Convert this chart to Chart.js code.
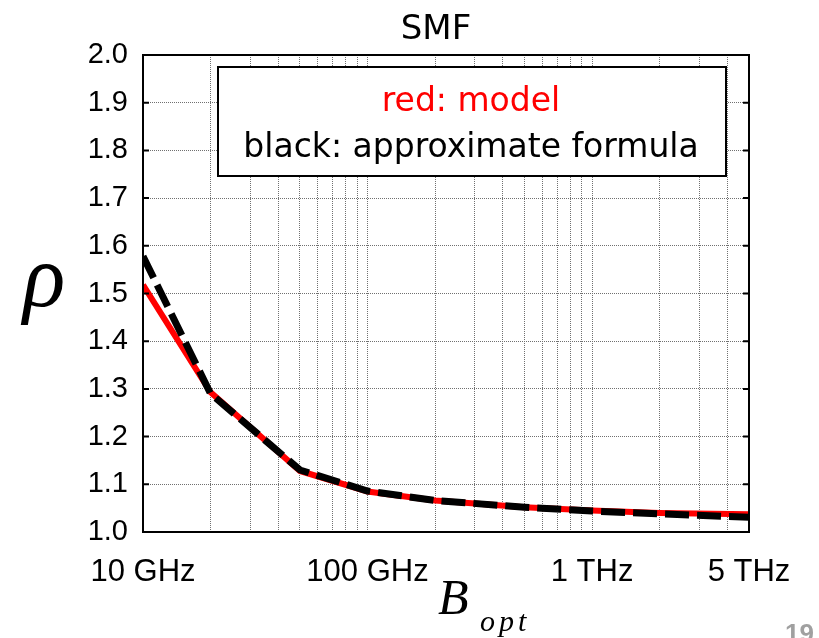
<!DOCTYPE html>
<html>
<head>
<meta charset="utf-8">
<script src="https://cdn.jsdelivr.net/npm/chart.js@4"></script>
<style>
  html, body { margin: 0; padding: 0; background: #fff; }
  #wrap { width: 819px; height: 638px; }
</style>
</head>
<body>
<div id="wrap"><canvas id="myChart" width="819" height="638"></canvas></div>
<script>
// values
const freqGHz = [10, 20, 50, 100, 200, 500, 1000, 2000, 5000];
const modelRho = [1.518, 1.293, 1.128, 1.085, 1.066, 1.052, 1.045, 1.040, 1.037];
const approxRho = [1.578, 1.290, 1.130, 1.086, 1.066, 1.052, 1.044, 1.038, 1.031];

// grid positions on the log axis and the few that get a label
const xGridGHz = [10, 20, 30, 40, 50, 60, 70, 80, 90,
  100, 200, 300, 400, 500, 600, 700, 800, 900,
  1000, 2000, 3000, 4000, 5000];
const xTickLabels = { 10: '10 GHz', 100: '100 GHz', 1000: '1 THz', 5000: '5 THz' };
const yTicks = [1.0, 1.1, 1.2, 1.3, 1.4, 1.5, 1.6, 1.7, 1.8, 1.9, 2.0];

const ctx = document.getElementById('myChart');

const gridStyle = {
  color: '#707070',
  lineWidth: 1,
  drawTicks: false
};
// in v4 the grid line dash lives under border
const borderStyle = { display: true, color: '#000', width: 2, dash: [1, 1] };

// frame, inner ticks, legend box and the free text around the plot
const decorations = {
  id: 'decorations',
  afterDraw(chart) {
    const c = chart.ctx;
    const a = chart.chartArea;
    c.save();

    c.strokeStyle = '#000';
    c.lineWidth = 2;
    c.strokeRect(a.left, a.top, a.right - a.left, a.bottom - a.top);

    // small inward ticks on left and right
    const y = chart.scales.y;
    yTicks.forEach(function(v) {
      const py = y.getPixelForValue(v);
      c.beginPath();
      c.moveTo(a.left, py); c.lineTo(a.left + 6, py);
      c.moveTo(a.right, py); c.lineTo(a.right - 6, py);
      c.stroke();
    });

    // legend box
    c.fillStyle = '#fff';
    c.fillRect(218, 67, 508, 109);
    c.strokeRect(218, 67, 508, 109);
    c.textAlign = 'center';
    c.textBaseline = 'alphabetic';
    c.font = '33px "DejaVu Sans"';
    c.fillStyle = '#ff0000';
    c.fillText('red: model', 471, 111);
    c.fillStyle = '#000';
    c.fillText('black: approximate formula', 471, 157);

    // title
    c.font = '34px "DejaVu Sans"';
    c.fillText('SMF', 436, 39);

    // axis titles
    c.font = 'italic 88px "Liberation Serif"';
    c.fillText('\u03C1', 44, 306);
    c.textAlign = 'left';
    c.font = 'italic 50px "Liberation Serif"';
    c.fillText('B', 438, 614);
    c.font = 'italic 30px "Liberation Serif"';
    c.letterSpacing = '4px';
    c.fillText('opt', 480, 631);
    c.letterSpacing = '0px';

    // slide number, cut by the bottom edge
    c.font = 'bold 26px "Liberation Sans"';
    c.fillStyle = '#a0a0a0';
    c.fillText('19', 785, 642);

    c.restore();
  }
};

new Chart(ctx, {
  type: 'line',
  data: {
    datasets: [{
      label: 'approximate formula',
      data: freqGHz.map(function(f, i) { return { x: f, y: approxRho[i] }; }),
      borderColor: '#000',
      borderWidth: 7,
      borderDash: [24, 8],
      pointRadius: 0,
      tension: 0
    }, {
      label: 'model',
      data: freqGHz.map(function(f, i) { return { x: f, y: modelRho[i] }; }),
      borderColor: '#ff0000',
      borderWidth: 6,
      pointRadius: 0,
      tension: 0
    }]
  },
  plugins: [decorations],
  options: {
    responsive: false,
    animation: false,
    layout: { padding: { left: 0, top: 55, right: 70, bottom: 0 } },
    plugins: {
      legend: { display: false },
      tooltip: { enabled: false }
    },
    scales: {
      x: {
        type: 'logarithmic',
        min: 10,
        max: 5000,
        afterBuildTicks: function(scale) {
          scale.ticks = xGridGHz.map(function(v) { return { value: v }; });
        },
        afterFit: function(scale) { scale.height = 106; },
        grid: gridStyle,
        border: borderStyle,
        ticks: {
          autoSkip: false,
          maxRotation: 0,
          padding: 22,
          color: '#000',
          font: { family: '"Liberation Sans", Arial', size: 31 },
          callback: function(value) { return xTickLabels[value] || ''; }
        }
      },
      y: {
        min: 1.0,
        max: 2.0,
        afterBuildTicks: function(scale) {
          scale.ticks = yTicks.map(function(v) { return { value: v }; });
        },
        afterFit: function(scale) { scale.width = 143; },
        grid: gridStyle,
        border: borderStyle,
        ticks: {
          padding: 15,
          color: '#000',
          font: { family: '"Liberation Sans", Arial', size: 29 },
          callback: function(value) { return Number(value).toFixed(1); }
        }
      }
    }
  }
});
</script>
</body>
</html>
